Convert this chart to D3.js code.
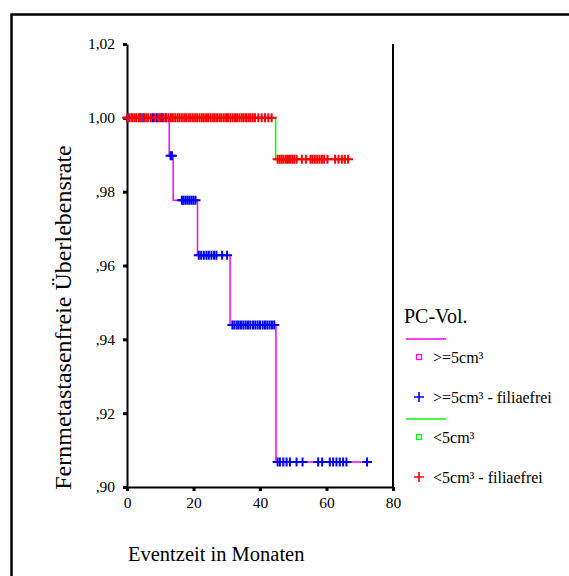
<!DOCTYPE html>
<html lang="de">

<head>
    <meta charset="UTF-8">
    <script src="https://d3js.org/d3.v7.min.js"></script>
</head>

<body style="margin:0">
    <svg id="chart"></svg>

<script>
    // Data
    // step curves: time of each step and survival after it
    var bigTimes = [0, 12.7, 13.9, 21.2, 31.0, 44.8, 72.2];
    var bigSurv = [1.0, 0.9897, 0.9777, 0.9628, 0.9439, 0.9068, 0.9068];
    var smallTimes = [0, 44.7, 66.5];
    var smallSurv = [1.0, 0.9888, 0.9888];

    // censored cases (months), >=5cm³
    var bigCensored = [0.2, 4.0, 4.9, 7.8, 9.0, 10.5, 11.6,
        13.1, 13.5,
        16.5, 17.0, 17.6, 18.2, 18.8, 19.4, 20.0, 20.6,
        21.6, 22.3, 23.1, 23.9, 24.6, 25.4, 26.2, 26.9, 28.6, 30.1,
        31.7, 32.3, 33.0, 33.6, 34.3, 35.0, 35.7, 36.4, 37.1, 37.9, 38.6, 39.3, 40.0, 40.8, 41.5, 42.2, 42.9, 43.6, 44.3,
        45.3, 46.0, 47.0, 48.0, 49.0, 51.0, 52.8, 57.5, 58.7, 61.0, 62.0, 63.0, 64.0, 65.0, 66.0, 72.2];

    // censored cases (months), <5cm³
    var smallCensored = [0.1, 0.8, 1.5, 2.2, 2.8, 3.5, 4.2, 5.2, 5.8, 6.4, 7.2, 8.4, 9.5, 10.0, 11.0, 11.8,
        12.5, 13.2, 13.8, 14.5, 15.2, 15.8, 16.5, 17.2, 17.8, 18.5, 19.1, 19.8, 20.5, 21.1, 21.8, 22.5,
        23.1, 23.8, 24.4, 25.1, 25.8, 26.4, 27.1, 27.8, 28.4, 29.1, 29.8, 30.4, 31.1, 31.8, 32.5, 33.1,
        33.8, 34.5, 35.1, 35.8, 36.5, 37.1, 37.8, 38.5, 39.5, 40.5, 41.5, 42.5, 43.5,
        45.3, 45.9, 46.5, 47.1, 47.8, 48.4, 49.0, 49.7, 50.3, 51.0,
        52.6, 53.8, 55.2, 55.8, 56.5, 57.2, 57.9, 58.6, 59.3, 60.3,
        62.6, 63.6, 64.6, 65.5, 66.5];

    var xTicks = [0, 20, 40, 60, 80];
    var yTicks = [1.02, 1.00, 0.98, 0.96, 0.94, 0.92, 0.90];
    var yTickLabels = ["1,02", "1,00", ",98", ",96", ",94", ",92", ",90"];

    var legendTitle = "PC-Vol.";
    var legendLabels = [">=5cm³", ">=5cm³ - filiaefrei", "<5cm³", "<5cm³ - filiaefrei"];

    // Constants
    var W = 569, H = 576;
    var plot = { left: 127, right: 393, top: 44, bottom: 487 };

    var svg = d3.select("#chart")
        .attr("width", W)
        .attr("height", H);

    svg.append("rect")
        .attr("width", W).attr("height", H)
        .attr("fill", "#fff");

    // outer frame (runs off the right and bottom edges)
    svg.append("rect")
        .attr("x", 11.5).attr("y", 14.5)
        .attr("width", 700).attr("height", 700)
        .attr("fill", "none")
        .attr("stroke", "#000")
        .attr("stroke-width", 2.5);

    var x = d3.scaleLinear().domain([0, 80]).range([plot.left, plot.right]);
    var y = d3.scaleLinear().domain([0.90, 1.02]).range([plot.bottom, plot.top]);

    // Axes
    var yAxis = svg.append("g")
        .attr("transform", "translate(" + plot.left + ",0)")
        .call(d3.axisLeft(y)
            .tickValues(yTicks)
            .tickFormat((d, i) => yTickLabels[i])
            .tickSize(4)
            .tickSizeOuter(0)
            .tickPadding(8));

    var xAxis = svg.append("g")
        .attr("transform", "translate(0," + plot.bottom + ")")
        .call(d3.axisBottom(x)
            .tickValues(xTicks)
            .tickSize(4)
            .tickSizeOuter(0)
            .tickPadding(6));

    [yAxis, xAxis].forEach(ax => {
        ax.select(".domain").attr("stroke-width", 2);
        ax.selectAll(".tick line").attr("stroke-width", 3);
        ax.selectAll("text")
            .attr("fill", "#000")
            .style("font-size", "15.5px");
    });

    // right edge of the plot
    svg.append("line")
        .attr("x1", x(80)).attr("x2", x(80))
        .attr("y1", plot.top).attr("y2", plot.bottom)
        .attr("stroke", "#000")
        .attr("stroke-width", 2);

    // Curves
    var line = d3.line()
        .x(d => x(d[0]))
        .y(d => y(d[1]))
        .curve(d3.curveStepAfter);

    // survival at time t from a step curve
    const survAt = (times, surv, t) => {
        var s = surv[0];
        times.forEach((tt, i) => { if (tt <= t) s = surv[i]; });
        return s;
    };

    const drawCensors = (times, stepT, stepS, color) => {
        svg.append("g")
            .selectAll("path")
            .data(times)
            .enter()
            .append("path")
            .attr("d", d => {
                var cx = x(d), cy = y(survAt(stepT, stepS, d));
                return "M" + (cx - 5) + "," + cy + "H" + (cx + 5) + "M" + cx + "," + (cy - 4.5) + "V" + (cy + 4.5);
            })
            .attr("stroke", color)
            .attr("stroke-width", 2)
            .attr("fill", "none");
    };

    svg.append("path")
        .datum(d3.zip(bigTimes, bigSurv))
        .attr("d", line)
        .attr("fill", "none")
        .attr("stroke", "#ff00ff")
        .attr("stroke-width", 1.5);

    drawCensors(bigCensored, bigTimes, bigSurv, "#0000ff");

    svg.append("path")
        .datum(d3.zip(smallTimes, smallSurv))
        .attr("d", line)
        .attr("fill", "none")
        .attr("stroke", "#00ff00")
        .attr("stroke-width", 1.5);

    drawCensors(smallCensored, smallTimes, smallSurv, "#ff0000");

    // Axis titles
    svg.append("text")
        .attr("x", 128)
        .attr("y", 561)
        .style("font-size", "20.5px")
        .text("Eventzeit in Monaten");

    svg.append("text")
        .attr("text-anchor", "middle")
        .attr("transform", "translate(71,317.5) rotate(-90)")
        .style("font-size", "24px")
        .text("Fernmetastasenfreie Überlebensrate");

    // Legend
    var lg = svg.append("g");
    lg.append("text")
        .attr("x", 404).attr("y", 323)
        .style("font-size", "20px")
        .text(legendTitle);

    var legendColors = ["#ff00ff", "#0000ff", "#00ff00", "#ff0000"];
    var lineY = [339, 419];
    var itemY = [357, 397, 437, 477];

    lineY.forEach((ly, i) => {
        lg.append("line")
            .attr("x1", 406).attr("x2", 446)
            .attr("y1", ly).attr("y2", ly)
            .attr("stroke", legendColors[i * 2])
            .attr("stroke-width", 1.5);
    });

    itemY.forEach((iy, i) => {
        if (i % 2 == 0) {
            lg.append("rect")
                .attr("x", 416.5).attr("y", iy - 2.5)
                .attr("width", 5).attr("height", 5)
                .attr("fill", "none")
                .attr("stroke", legendColors[i])
                .attr("stroke-width", 1.3);
        } else {
            lg.append("path")
                .attr("d", "M414," + iy + "H424M419," + (iy - 5) + "V" + (iy + 5))
                .attr("stroke", legendColors[i])
                .attr("stroke-width", 1.6);
        }
        lg.append("text")
            .attr("x", 433).attr("y", iy + 6)
            .style("font-size", "16px")
            .text(legendLabels[i]);
    });

    // every text in Times-like serif
    svg.selectAll("text")
        .attr("font-family", null)
        .style("font-family", "'Liberation Serif'");
    svg.selectAll("g").attr("font-family", null);
</script>
</body>

</html>
